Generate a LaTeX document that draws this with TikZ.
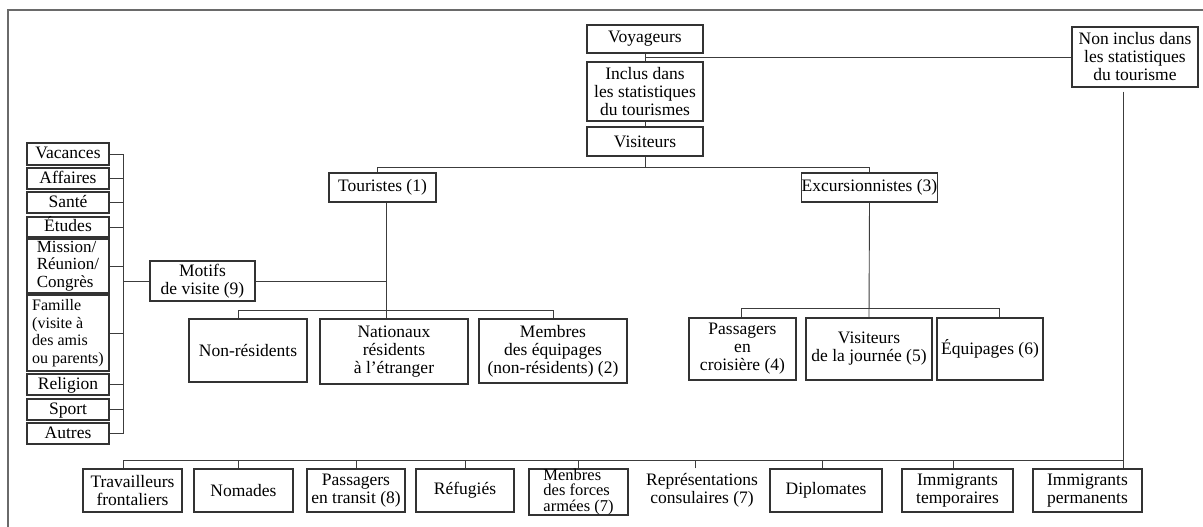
\documentclass[tikz,border=0pt]{standalone}
\usepackage{fontspec}
\setmainfont{Liberation Serif}
\definecolor{linec}{HTML}{3C3C3C}
\definecolor{boxc}{HTML}{333333}
\definecolor{framec}{HTML}{6A6A6A}
\newcommand\bodyfont{\fontsize{17.5}{18}\selectfont}
\tikzset{
  box/.style={draw=boxc, line width=1.1pt, align=center, inner sep=0pt, font=\bodyfont, text=black},
  lbox/.style={box, minimum width=82, text height=12.5pt, text depth=3.5pt},
  conn/.style={draw=linec, line width=0.9pt},
  framel/.style={draw=framec, line width=1.2pt},
}
\begin{document}
\begin{tikzpicture}[x=1pt,y=-1pt]
\useasboundingbox (0,0) rectangle (1203,527);
% frame
\coordinate (fbl) at (8,527);
\coordinate (ftl) at (8,10);
\coordinate (ftr) at (1203,10);
\draw[framel] (fbl) -- (ftl) -- (ftr);

% top chain
\node[box, minimum width=116, minimum height=28] (voy) at (645,39) {Voyageurs};
\node[box, minimum width=116, minimum height=59] (incl) at (645,91.5) {Inclus dans\\les statistiques\\du tourismes};
\node[box, minimum width=116, minimum height=29] (vis) at (645,141.5) {Visiteurs};
\node[box, minimum width=126, minimum height=60] (non) at (1135,57) {Non inclus dans\\les statistiques\\du tourisme};

\node[box, minimum width=107, minimum height=29] (tour) at (382.5,187.5) {Touristes (1)};
\node[box, minimum width=135, minimum height=29] (exc) at (869.5,187.5) {Excursionnistes (3)};

\node[box, minimum width=105, minimum height=40] (motifs) at (202.5,281) {Motifs\\de visite (9)};

\node[box, minimum width=118, minimum height=63] (nonres) at (248,350.5) {Non-résidents};
\node[box, minimum width=148, minimum height=65] (nat) at (394,351.5) {Nationaux\\résidents\\à l’étranger};
\node[box, minimum width=148, minimum height=64] (memb) at (553,351) {Membres\\des équipages\\(non-résidents) (2)};

\node[box, minimum width=107, minimum height=62] (pass) at (742.5,349) {Passagers\\en\\croisière (4)};
\node[box, minimum width=126, minimum height=62] (vjour) at (869,349) {Visiteurs\\de la journée (5)};
\node[box, minimum width=106, minimum height=62] (equip) at (990,349) {Équipages (6)};

% left column
\node[lbox, minimum height=22] (vac) at (68,154) {Vacances};
\node[lbox, minimum height=21] (aff) at (68,178.5) {Affaires};
\node[lbox, minimum height=21] (san) at (68,202.5) {Santé};
\node[lbox, minimum height=20] (etu) at (68,227) {Études};
\node[box, minimum width=82, minimum height=54, align=left, font=\fontsize{17}{17.3}\selectfont] (mis) at (68,266) {Mission/\\Réunion/\\Congrès};
\node[box, minimum width=82, minimum height=76, align=left, font=\fontsize{16}{17.5}\selectfont] (fam) at (68,333) {Famille\\(visite à\\des amis\\ou parents)};
\node[lbox, minimum height=21] (rel) at (68,384.5) {Religion};
\node[lbox, minimum height=21] (spo) at (68,409.5) {Sport};
\node[lbox, minimum height=21] (aut) at (68,433.5) {Autres};

% bottom row
\node[box, minimum width=99, minimum height=43] (trav) at (132.5,490.5) {Travailleurs\\frontaliers};
\node[box, minimum width=99, minimum height=43] (nom) at (243.5,490.5) {Nomades};
\node[box, minimum width=98, minimum height=43] (ptr) at (356,490.5) {Passagers\\en transit (8)};
\node[box, minimum width=98, minimum height=43] (ref) at (465,490.5) {Réfugiés};
\node[box, minimum width=99, minimum height=46, align=left, font=\fontsize{16.5}{15.5}\selectfont] (menb) at (578.5,492) {Menbres\\des forces\\armées (7)};
\node[box, draw=none, minimum width=116, minimum height=43] (rep) at (702,490.5) {Représentations\\consulaires (7)};
\node[box, minimum width=112, minimum height=43] (dipl) at (826,490.5) {Diplomates};
\node[box, minimum width=111, minimum height=43] (imt) at (957.5,490.5) {Immigrants\\temporaires};
\node[box, minimum width=109, minimum height=43] (imp) at (1087.5,490.5) {Immigrants\\permanents};

% connectors: top chain
\draw[conn] (voy.south) -- (incl.north);
\draw[conn] (incl.south) -- (vis.north);
\draw[conn] (voy.south |- non.west) -- (non.west);
\coordinate (vbus) at (645,167);
\draw[conn] (vis.south) -- (vbus);
\draw[conn] ([xshift=-5.5pt]tour.north) |- (exc.north |- vbus) -- (exc.north);

% touristes branch
\coordinate (tv) at ([xshift=3.5pt]tour.south);
\draw[conn] (tv) -- (tv |- nat.north);
\draw[conn] (motifs.east) -- (motifs.east -| tv);
\draw[conn] ([xshift=-10pt]nonres.north) -- ++(0,-8) -| (memb.north);

% excursionnistes branch
\draw[conn] (exc.south) -- (vjour.north);
\draw[conn] ([xshift=-1.5pt]pass.north) -- ++(0,-9) -| ([xshift=9pt]equip.north);

% left bus
\coordinate (lb) at (123,0);
\foreach \n in {vac,aff,san,etu,mis,fam,rel,spo,aut}
  \draw[conn] (\n.east) -- (\n.east -| lb);
\draw[conn] (vac.east -| lb) -- (aut.east -| lb);
\draw[conn] (motifs.west -| lb) -- (motifs.west);

% bottom bus
\coordinate (busL) at (123,460);
\coordinate (busR) at (1123,460);
\draw[conn] (busL) -- (busR);
\draw[conn] ([xshift=-9.5pt]trav.north) -- ([xshift=-9.5pt]trav.north |- busL);
\draw[conn] ([xshift=-5.5pt]nom.north) -- ([xshift=-5.5pt]nom.north |- busL);
\draw[conn] (ptr.north) -- (ptr.north |- busL);
\draw[conn] (ref.north) -- (ref.north |- busL);
\draw[conn] (menb.north) -- (menb.north |- busL);
\draw[conn] ([xshift=-7pt]rep.north) -- ([xshift=-7pt]rep.north |- busL);
\draw[conn] ([xshift=-4pt]dipl.north) -- ([xshift=-4pt]dipl.north |- busL);
\draw[conn] ([xshift=-4.5pt]imt.north) -- ([xshift=-4.5pt]imt.north |- busL);
\coordinate (nv) at ([xshift=-12pt,yshift=-4pt]non.south);
\draw[conn] (nv) -- (nv |- imp.north);
\end{tikzpicture}
\end{document}
